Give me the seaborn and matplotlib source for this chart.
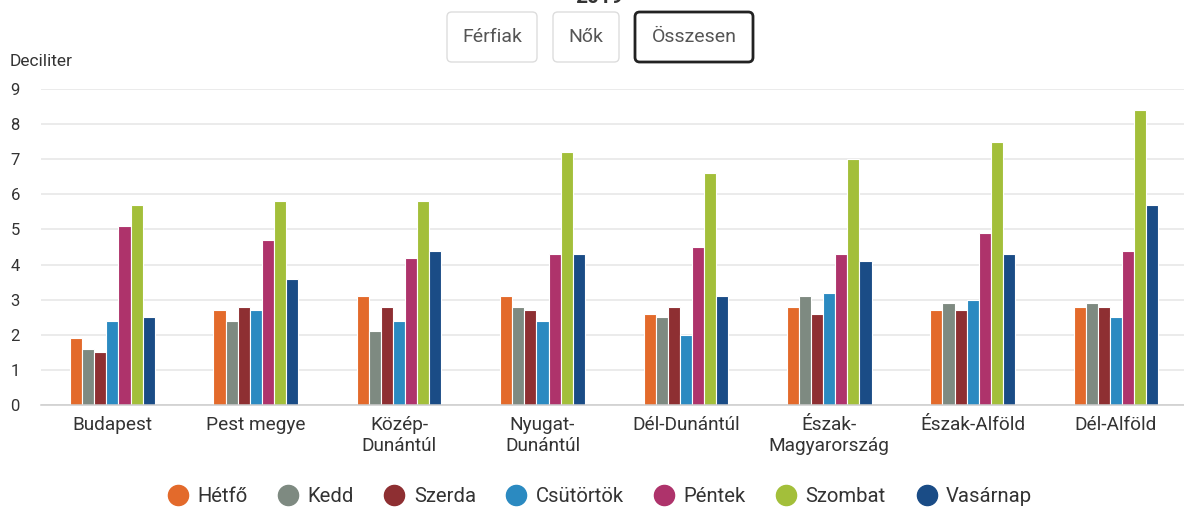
import matplotlib
matplotlib.use("Agg")
import matplotlib.pyplot as plt
from matplotlib.patches import FancyBboxPatch
from matplotlib.lines import Line2D
import seaborn as sns
import pandas as pd

regions = ["Budapest", "Pest megye", "Közép-Dunántúl", "Nyugat-Dunántúl",
           "Dél-Dunántúl", "Észak-Magyarország", "Észak-Alföld", "Dél-Alföld"]
region_labels = ["Budapest", "Pest megye", "Közép-\nDunántúl", "Nyugat-\nDunántúl",
                 "Dél-Dunántúl", "Észak-\nMagyarország", "Észak-Alföld", "Dél-Alföld"]
days = ["Hétfő", "Kedd", "Szerda", "Csütörtök", "Péntek", "Szombat", "Vasárnap"]

hetfo     = [1.9, 2.7, 3.1, 3.1, 2.6, 2.8, 2.7, 2.8]
kedd      = [1.6, 2.4, 2.1, 2.8, 2.5, 3.1, 2.9, 2.9]
szerda    = [1.5, 2.8, 2.8, 2.7, 2.8, 2.6, 2.7, 2.8]
csutortok = [2.4, 2.7, 2.4, 2.4, 2.0, 3.2, 3.0, 2.5]
pentek    = [5.1, 4.7, 4.2, 4.3, 4.5, 4.3, 4.9, 4.4]
szombat   = [5.7, 5.8, 5.8, 7.2, 6.6, 7.0, 7.5, 8.4]
vasarnap  = [2.5, 3.6, 4.4, 4.3, 3.1, 4.1, 4.3, 5.7]

colors = ["#E36A2B", "#7E8A81", "#8E2F32", "#2B8AC1", "#AE336B", "#A3BF3A", "#1A4C86"]

series = [hetfo, kedd, szerda, csutortok, pentek, szombat, vasarnap]
rows = []
for d, vals in zip(days, series):
    for r, v in zip(regions, vals):
        rows.append({"region": r, "day": d, "value": v})
df = pd.DataFrame(rows)

sns.set_theme(style="white")
plt.rcParams["font.family"] = ["Roboto", "DejaVu Sans"]

W, H = 1184, 507
fig = plt.figure(figsize=(W / 100, H / 100), dpi=100)
ax = fig.add_axes([40.7 / W, 1 - 405 / H, 1147 / W, (405 - 89) / H])

sns.barplot(data=df, x="region", y="value", hue="day", order=regions, hue_order=days,
            palette=colors, saturation=1, width=0.59, edgecolor="white", linewidth=0.8,
            legend=False, ax=ax, errorbar=None)

ax.set_xlim(-0.5, 7.5)
ax.set_ylim(0, 9)
ax.set_yticks(range(0, 10))
ax.yaxis.grid(True, color="#e6e6e6", linewidth=1.1)
ax.set_axisbelow(True)
for s in ["left", "right", "top"]:
    ax.spines[s].set_visible(False)
ax.spines["bottom"].set_color("#cccccc")
ax.spines["bottom"].set_linewidth(1.1)

ax.set_xticks(range(len(regions)))
ax.set_xticklabels(region_labels)
ax.set_xticks([i - 0.5 for i in range(len(regions) + 1)], minor=True)
ax.tick_params(axis="x", which="major", length=0, pad=8, labelsize=13.7, labelcolor="#333333")
ax.tick_params(axis="x", which="minor", length=7.5, width=1.1, color="#cccccc")
ax.tick_params(axis="y", length=0, pad=15, labelsize=12, labelcolor="#333333")
ax.set_xlabel("")
ax.set_ylabel("")

fig.text(10 / W, 1 - 62 / H, "Deciliter", ha="left", va="center", fontsize=12.5, color="#333333")

# title (mostly cut off at the top, as in the original)
fig.text(599 / W, 1 - 3 / H, "2019", ha="center", va="baseline", fontsize=15,
         fontweight="bold", color="#333333")

# buttons
buttons = [("Férfiak", 447, 537, "#dddddd", 1.0),
           ("Nők", 553, 619, "#dddddd", 1.0),
           ("Összesen", 635, 753, "#222222", 2.0)]
for label, x0, x1, ec, lw in buttons:
    y0, y1 = 12, 62
    p = FancyBboxPatch((x0 / W, 1 - y1 / H), (x1 - x0) / W, (y1 - y0) / H,
                       boxstyle="round,pad=0,rounding_size=0.004",
                       transform=fig.transFigure, facecolor="white", edgecolor=ec,
                       linewidth=lw, mutation_aspect=W / H)
    fig.patches.append(p)
    fig.text((x0 + x1) / 2 / W, 1 - (y0 + y1) / 2 / H, label, ha="center", va="center",
             fontsize=14, color="#555555")

handles = [Line2D([], [], marker="o", linestyle="", markersize=14.5, color=c) for c in colors]
leg = fig.legend(handles, days, loc="center", bbox_to_anchor=(600 / W, 1 - 497 / H),
                 ncol=7, frameon=False, fontsize=14.6, handlelength=1.0,
                 handletextpad=0.45, columnspacing=1.5, borderpad=0, borderaxespad=0)
for t in leg.get_texts():
    t.set_color("#333333")

fig.savefig("out.png", dpi=100)
